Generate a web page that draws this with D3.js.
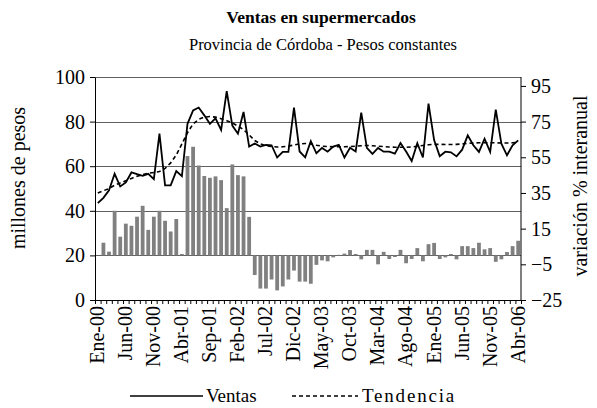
<!DOCTYPE html>
<html>
<head>
<meta charset="utf-8">
<script src="https://cdn.jsdelivr.net/npm/d3@7"></script>
<style>
body { margin: 0; background: #fff; }
text { font-family: 'Liberation Serif', 'Times New Roman', serif; }
.grid line { stroke: #606060; stroke-width: 1; }
.axis path, .axis line { stroke: #000; }
</style>
</head>
<body>
<svg id="chart" width="597" height="408"></svg>
<script>
const serif = "'Liberation Serif', 'Times New Roman', serif";
const monthNames = ['Ene', 'Feb', 'Mar', 'Abr', 'May', 'Jun', 'Jul', 'Ago', 'Sep', 'Oct', 'Nov', 'Dic'];
const years = ['00', '01', '02', '03', '04', '05', '06'];

// categorias: Ene-00 .. Abr-06
const categories = [];
years.forEach(y => monthNames.forEach(m => categories.push(m + '-' + y)));
categories.splice(76);

const tickLabels = ['Ene-00', 'Jun-00', 'Nov-00', 'Abr-01', 'Sep-01', 'Feb-02', 'Jul-02', 'Dic-02',
    'May-03', 'Oct-03', 'Mar-04', 'Ago-04', 'Ene-05', 'Jun-05', 'Nov-05', 'Abr-06'];

// millones de pesos
const ventas = [43.4, 45.8, 49.2, 56.6, 50.9, 52.7, 57.2, 56.4, 55.7, 56.6, 54.2, 74.6,
    51.4, 51.4, 57.8, 55.5, 79, 85, 86.3, 82.8, 79, 81.5, 76.3, 93.7,
    78.2, 74.6, 84.3, 68.8, 70.2, 68.8, 69.6, 69.4, 63.9, 66.4, 66.4, 86.3,
    66.6, 64, 71.2, 65.8, 68.2, 66.5, 68.8, 69.6, 63.9, 68.3, 66.6, 84,
    68.2, 65.5, 68.2, 66.5, 66.5, 65.6, 70.4, 66.6, 62.3, 70.3, 63.9, 88.1,
    71.7, 64.5, 66.5, 66.2, 64.4, 67.4, 73.8, 69.4, 66.4, 72.3, 66.4, 85.4,
    70.1, 64.9, 69.4, 71.6];

const tendencia = [48, 49, 50, 51.5, 52.5, 53.5, 54.5, 55.5, 56.2, 56.8, 57.2, 57.6,
    59, 61.5, 65, 70, 75, 79, 81, 82, 82.3, 82, 81.3, 80.4,
    79.4, 78, 76.4, 74, 71.5, 70, 69.2, 68.8, 68.6, 68.7, 69, 69.5,
    70, 70.2, 70, 69.4, 69, 68.8, 68.7, 68.7, 68.7, 68.8, 69, 69.2,
    69.3, 69.2, 69, 68.8, 68.6, 68.5, 68.5, 68.5, 68.6, 68.9, 69.3, 69.6,
    69.8, 69.8, 69.7, 69.7, 69.8, 70, 70.2, 70.4, 70.5, 70.5, 70.5, 70.5,
    70.4, 70.4, 70.5, 70.6];

// variacion % interanual (eje derecho)
const variacion = [null, 7.1, 2.1, 25, 10.5, 17.8, 16.6, 21.7, 27.8, 14.3, 21.7, 25,
    19.4, 13.4, 20.4, 0.8, 55.7, 60.9, 50.4, 44.5, 43.5, 44.3, 42.2, 26.5,
    51, 45, 44.3, 21.6, -11, -18.6, -18.6, -13.5, -19.6, -17.4, -13.5, -8.5,
    -14.7, -14.7, -15.9, -5.3, -2.8, -3.3, -1.1, 0.3, 1, 3, 0.8, -2.2,
    3.1, 3.1, -5, 2, -2, -0.9, 3.1, -4.4, -2, 4.1, -3.3, 6.3,
    7, -2, -1.1, 0.8, -2.2, 5.2, 5.2, 4.1, 7.1, 3.4, 4.1, -3.6,
    -2.2, 1.9, 5.2, 8.2];

const leftTicks = [0, 20, 40, 60, 80, 100];
const rightTicks = [-25, -5, 15, 35, 55, 75, 95];

const svg = d3.select('#chart');
const plotLeft = 95, plotRight = 521, plotTop = 77, plotBottom = 300;
const fs = 20;

const x = d3.scaleBand().domain(categories).range([plotLeft, plotRight]);
const xi = d3.scaleLinear().domain([0, categories.length]).range([plotLeft, plotRight]);
const yL = d3.scaleLinear().domain([0, 100]).range([plotBottom, plotTop]);
const yR = d3.scaleLinear().domain([-25, 100]).range([plotBottom, plotTop]);

// titulos
svg.append('text')
    .attr('x', 321).attr('y', 23)
    .attr('text-anchor', 'middle')
    .attr('font-family', serif)
    .attr('font-size', 17.5).attr('font-weight', 'bold')
    .text('Ventas en supermercados');
svg.append('text')
    .attr('x', 323).attr('y', 50)
    .attr('text-anchor', 'middle')
    .attr('font-family', serif)
    .attr('font-size', 16.5)
    .text('Provincia de Córdoba - Pesos constantes');

// grilla
svg.append('g')
    .attr('class', 'grid')
    .selectAll('line')
    .data(leftTicks.filter(d => d > 0))
    .join('line')
    .attr('x1', plotLeft).attr('x2', plotRight)
    .attr('y1', d => Math.round(yL(d)) + 0.5)
    .attr('y2', d => Math.round(yL(d)) + 0.5);

// barras
const barW = 3.8;
svg.append('g')
    .selectAll('rect')
    .data(variacion.map((v, i) => ({ c: categories[i], v })).filter(d => d.v !== null))
    .join('rect')
    .attr('x', d => x(d.c) + (x.bandwidth() - barW) / 2)
    .attr('width', barW)
    .attr('y', d => Math.min(yR(d.v), yR(0)))
    .attr('height', d => Math.abs(yR(d.v) - yR(0)))
    .attr('fill', '#808080');

const line = d3.line()
    .x((d, i) => x(categories[i]) + x.bandwidth() / 2)
    .y(d => yL(d));

svg.append('path')
    .datum(tendencia)
    .attr('fill', 'none')
    .attr('stroke', '#000')
    .attr('stroke-width', 1.6)
    .attr('stroke-dasharray', '4,3')
    .attr('d', line);

svg.append('path')
    .datum(ventas)
    .attr('fill', 'none')
    .attr('stroke', '#000')
    .attr('stroke-width', 1.8)
    .attr('stroke-linejoin', 'miter')
    .attr('d', line);

const styleAxisText = g => {
    g.attr('font-family', serif).attr('font-size', fs);
    g.selectAll('text').attr('font-family', serif).attr('font-size', fs).attr('fill', '#000');
};

// eje izquierdo
svg.append('g')
    .attr('class', 'axis')
    .attr('transform', `translate(${plotLeft},0)`)
    .call(d3.axisLeft(yL).tickValues(leftTicks).tickSize(5).tickSizeOuter(0).tickPadding(5))
    .call(styleAxisText);

// eje derecho
const axR = svg.append('g')
    .attr('class', 'axis')
    .attr('transform', `translate(${plotRight},0)`)
    .call(d3.axisRight(yR).tickValues(rightTicks).tickSize(5).tickSizeOuter(0).tickPadding(5))
    .call(styleAxisText);
axR.select('.domain').attr('d', `M0,${plotTop}V${plotBottom}`);

// eje inferior: marcas entre meses
svg.append('g')
    .attr('class', 'axis')
    .attr('transform', `translate(0,${plotBottom})`)
    .call(d3.axisBottom(xi).tickValues(d3.range(categories.length + 1)).tickSize(4).tickSizeOuter(0).tickFormat(''));

const axB = svg.append('g')
    .attr('transform', `translate(0,${plotBottom})`)
    .call(d3.axisBottom(x).tickValues(tickLabels).tickSize(0).tickPadding(0))
    .call(styleAxisText);
axB.select('.domain').remove();
axB.selectAll('text')
    .attr('transform', 'rotate(-90)')
    .attr('x', -6).attr('y', 0).attr('dy', '0.32em')
    .attr('text-anchor', 'end');

// titulos de ejes
svg.append('text')
    .attr('transform', 'translate(25,178) rotate(-90)')
    .attr('text-anchor', 'middle')
    .attr('font-family', serif)
    .attr('font-size', 20)
    .text('millones de pesos');
svg.append('text')
    .attr('transform', 'translate(587,186) rotate(-90)')
    .attr('text-anchor', 'middle')
    .attr('font-family', serif)
    .attr('font-size', 20)
    .text('variación % interanual');

// leyenda
const lg = svg.append('g').attr('font-family', serif);
lg.append('line').attr('x1', 130).attr('x2', 203).attr('y1', 396).attr('y2', 396)
    .attr('stroke', '#000').attr('stroke-width', 1.6);
lg.append('text').attr('x', 206).attr('y', 402).attr('font-family', serif).attr('font-size', 19).text('Ventas');
lg.append('line').attr('x1', 292).attr('x2', 358).attr('y1', 396).attr('y2', 396)
    .attr('stroke', '#000').attr('stroke-width', 1.6).attr('stroke-dasharray', '4,3');
lg.append('text').attr('x', 362).attr('y', 402).attr('font-family', serif).attr('font-size', 19)
    .attr('letter-spacing', 1.8).text('Tendencia');
</script>
</body>
</html>
